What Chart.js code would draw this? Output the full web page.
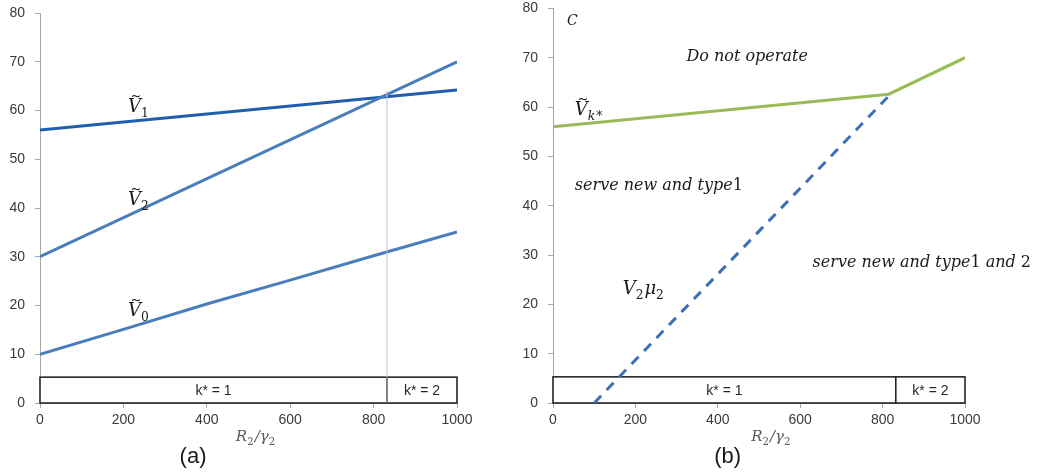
<!DOCTYPE html>
<html>
<head>
<meta charset="utf-8">
<script src="https://cdn.jsdelivr.net/npm/chart.js@4.4.1/dist/chart.umd.min.js"></script>
<style>
html, body { margin: 0; padding: 0; background: #fff; overflow: hidden; }
#wrap { position: relative; width: 1041px; height: 475px; }
canvas { position: absolute; top: -10px; }
</style>
</head>
<body>
<div id="wrap">
  <canvas id="chartA" width="520" height="485" style="left:0px"></canvas>
  <canvas id="chartB" width="521" height="485" style="left:520px"></canvas>
</div>
<script>
// tick labels
const xTicks = [0, 200, 400, 600, 800, 1000];
const yTicks = [0, 10, 20, 30, 40, 50, 60, 70, 80];

// panel (a)
const v1X = [0, 1000];
const v1Y = [56, 64.2];
const v2X = [0, 1000];
const v2Y = [30, 70];
const v0X = [0, 200, 400, 600, 800, 1000];
const v0Y = [10, 15.1, 20.3, 25.2, 30.2, 35.1];
const splitX = [832, 832];
const splitY = [0, 64];

// panel (b)
const vkX = [0, 815, 1000];
const vkY = [56, 62.6, 70];
const v2muX = [100, 812];
const v2muY = [0, 62];

// k* regions along the bottom
const kEdges = [0, 832, 1000];
const kLabels = ['k* = 1', 'k* = 2'];
const kBoxTop = 5.3;

const SERIF = '"DejaVu Serif", serif';
const SANS = '"Liberation Sans", Arial, sans-serif';

function pts(xs, ys) {
    return xs.map((x, i) => ({ x: x, y: ys[i] }));
}

// draws a run of math pieces: {t, sub, up, tilde}
function mathWidth(ctx, parts, size) {
    let w = 0;
    for (const p of parts) {
        const fs = p.sub ? size * 0.68 : size;
        ctx.font = (p.up ? '' : 'italic ') + fs + 'px ' + SERIF;
        w += ctx.measureText(p.t).width + (p.sub ? 1 : 0);
    }
    return w;
}

function drawMath(ctx, x, y, parts, size, color) {
    let cx = x;
    ctx.fillStyle = color;
    ctx.textAlign = 'left';
    ctx.textBaseline = 'alphabetic';
    for (const p of parts) {
        const fs = p.sub ? size * 0.68 : size;
        ctx.font = (p.up ? '' : 'italic ') + fs + 'px ' + SERIF;
        const yy = p.sub ? y + size * 0.28 : y;
        ctx.fillText(p.t, cx, yy);
        const w = ctx.measureText(p.t).width;
        if (p.tilde) {
            ctx.font = (size * 0.72) + 'px ' + SERIF;
            ctx.textAlign = 'center';
            ctx.fillText('~', cx + w * 0.62, y - size * 0.68);
            ctx.textAlign = 'left';
        }
        cx += w + (p.sub ? 1 : 0);
    }
}

const panelPlugin = {
    id: 'panel',
    beforeDatasetsDraw(chart) {
        const ctx = chart.ctx;
        const xs = chart.scales.x, ys = chart.scales.y;
        const yb = ys.getPixelForValue(0), yt = ys.getPixelForValue(kBoxTop);
        ctx.save();
        ctx.lineWidth = 1.6;
        ctx.strokeStyle = '#262626';
        for (let i = 0; i < kLabels.length; i++) {
            const xl = xs.getPixelForValue(kEdges[i]);
            const xr = xs.getPixelForValue(kEdges[i + 1]);
            ctx.fillStyle = '#fff';
            ctx.fillRect(xl, yt, xr - xl, yb - yt);
            ctx.strokeRect(xl, yt, xr - xl, yb - yt);
            ctx.fillStyle = '#262626';
            ctx.font = '14px ' + SANS;
            ctx.textAlign = 'center';
            ctx.textBaseline = 'middle';
            ctx.fillText(kLabels[i], (xl + xr) / 2, (yt + yb) / 2 + 1);
        }
        ctx.restore();
    },
    afterDraw(chart, args, opts) {
        const ctx = chart.ctx;
        const xs = chart.scales.x, ys = chart.scales.y;
        ctx.save();
        for (const l of opts.labels) {
            drawMath(ctx, xs.getPixelForValue(l.x), ys.getPixelForValue(l.y), l.parts, l.size, '#1a1a1a');
        }
        // axis title
        const tParts = [{ t: 'R' }, { t: '2', sub: 1, up: 1 }, { t: '/γ' }, { t: '2', sub: 1, up: 1 }];
        const tw = mathWidth(ctx, tParts, 15);
        drawMath(ctx, xs.getPixelForValue(opts.titleX) - tw / 2, chart.chartArea.bottom + 38, tParts, 15, '#595959');
        // panel letter
        ctx.fillStyle = '#1a1a1a';
        ctx.font = '22px ' + SANS;
        ctx.textAlign = 'center';
        ctx.textBaseline = 'middle';
        ctx.fillText(opts.letter, xs.getPixelForValue(opts.letterX), chart.chartArea.bottom + 54);
        ctx.restore();
    }
};

function makeOptions(pad, yWidth, plug) {
    const tickFont = { family: SANS, size: 14 };
    return {
        responsive: false,
        animation: false,
        layout: { padding: pad },
        elements: { point: { radius: 0 }, line: { tension: 0 } },
        plugins: { legend: { display: false }, tooltip: { enabled: false }, panel: plug },
        scales: {
            x: {
                type: 'linear', min: 0, max: 1000,
                afterBuildTicks: s => { s.ticks = xTicks.map(v => ({ value: v })); },
                afterFit: s => { s.height = 40; },
                grid: { display: true, drawOnChartArea: false, drawTicks: true, tickLength: 5, color: '#a6a6a6' },
                border: { display: true, color: '#a6a6a6' },
                ticks: { padding: 4, color: '#3a3a3a', font: tickFont, maxRotation: 0, autoSkip: false,
                         callback: v => String(v) }
            },
            y: {
                type: 'linear', min: 0, max: 80,
                afterBuildTicks: s => { s.ticks = yTicks.map(v => ({ value: v })); },
                afterFit: s => { s.width = yWidth; },
                grid: { display: true, drawOnChartArea: false, drawTicks: true, tickLength: 5, color: '#a6a6a6' },
                border: { display: true, color: '#a6a6a6' },
                ticks: { padding: 10, color: '#3a3a3a', font: tickFont, callback: v => String(v) }
            }
        }
    };
}

const V = { t: 'V', tilde: 1 };

new Chart(document.getElementById('chartA').getContext('2d'), {
    type: 'line',
    data: {
        datasets: [
            { data: pts(splitX, splitY), borderColor: '#b4c3dc', borderWidth: 1 },
            { data: pts(v0X, v0Y), borderColor: '#4a7ebb', borderWidth: 3 },
            { data: pts(v2X, v2Y), borderColor: '#4a7ebb', borderWidth: 3 },
            { data: pts(v1X, v1Y), borderColor: '#1f5fae', borderWidth: 3 }
        ]
    },
    options: makeOptions({ left: 0, top: 23, right: 63, bottom: 32 }, 40, {
        titleX: 518, letter: '(a)', letterX: 367,
        labels: [
            { x: 211, y: 59.7, size: 18, parts: [V, { t: '1', sub: 1, up: 1 }] },
            { x: 211, y: 40.6, size: 18, parts: [V, { t: '2', sub: 1, up: 1 }] },
            { x: 211, y: 17.8, size: 18, parts: [V, { t: '0', sub: 1, up: 1 }] }
        ]
    }),
    plugins: [panelPlugin]
});

new Chart(document.getElementById('chartB').getContext('2d'), {
    type: 'line',
    data: {
        datasets: [
            { data: pts(v2muX, v2muY), borderColor: '#3b70b5', borderWidth: 3, borderDash: [10, 8] },
            { data: pts(vkX, vkY), borderColor: '#9bbb59', borderWidth: 3 }
        ]
    },
    options: makeOptions({ left: 0, top: 15, right: 76, bottom: 32 }, 33, {
        titleX: 530, letter: '(b)', letterX: 424,
        labels: [
            { x: 34, y: 76.6, size: 14, parts: [{ t: 'C' }] },
            { x: 324, y: 69.3, size: 16, parts: [{ t: 'Do not operate' }] },
            { x: 53, y: 58.3, size: 18, parts: [V, { t: 'k', sub: 1 }, { t: '*', sub: 1, up: 1 }] },
            { x: 53, y: 43.2, size: 16, parts: [{ t: 'serve new and type' }, { t: '1', up: 1 }] },
            { x: 630, y: 27.5, size: 16, parts: [{ t: 'serve new and type' }, { t: '1', up: 1 }, { t: ' and ' }, { t: '2', up: 1 }] },
            { x: 169, y: 22.1, size: 18, parts: [{ t: 'V' }, { t: '2', sub: 1, up: 1 }, { t: 'μ' }, { t: '2', sub: 1, up: 1 }] }
        ]
    }),
    plugins: [panelPlugin]
});
</script>
</body>
</html>
